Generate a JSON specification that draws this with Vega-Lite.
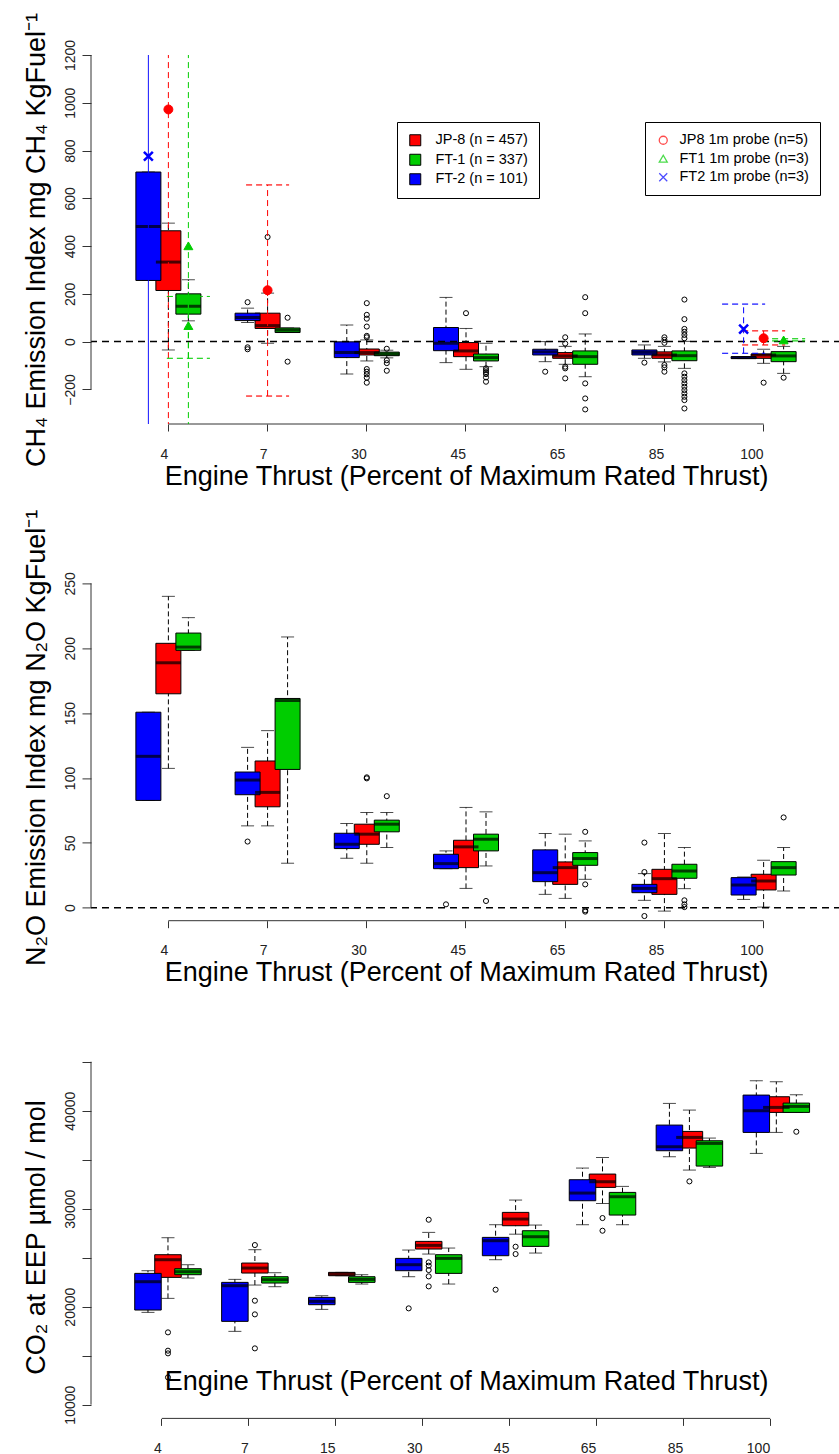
{
"$schema": "https://vega.github.io/schema/vega-lite/v6.json",
"background": "white",
"padding": {"left": 21, "top": 8, "right": 0, "bottom": 0},
"config": {
 "font": "Liberation Sans",
 "view": {"stroke": null},
 "axis": {"grid": false, "domain": false, "tickColor": "#333", "tickWidth": 1, "labelColor": "#222", "titleColor": "#000", "titleFontWeight": "normal", "labelFont": "Liberation Sans", "titleFont": "Liberation Sans"},
 "legend": {"strokeColor": "#000", "strokeWidth": 1, "padding": 11, "labelFontSize": 14.5, "labelColor": "#000", "labelFont": "Liberation Sans", "rowPadding": 3.5, "cornerRadius": 0, "fillColor": "white"}
},
"datasets": {
 "ch4box": [
  {"t":"4","f":"JP-8","lo":-35,"q1":214,"med":333,"q3":464,"hi":496},
  {"t":"7","f":"JP-8","lo":-7,"q1":55,"med":67,"q3":119,"hi":203},
  {"t":"30","f":"JP-8","lo":-81,"q1":-56,"med":-46,"q3":-31,"hi":7},
  {"t":"45","f":"JP-8","lo":-116,"q1":-63,"med":-39,"q3":-4,"hi":55},
  {"t":"65","f":"JP-8","lo":-95,"q1":-70,"med":-60,"q3":-46,"hi":-20},
  {"t":"85","f":"JP-8","lo":-85,"q1":-70,"med":-56,"q3":-43,"hi":-20},
  {"t":"100","f":"JP-8","lo":-91,"q1":-70,"med":-56,"q3":-52,"hi":-32},
  {"t":"4","f":"FT-2","lo":256,"q1":256,"med":482,"q3":710,"hi":710},
  {"t":"7","f":"FT-2","lo":80,"q1":88,"med":101,"q3":119,"hi":140},
  {"t":"30","f":"FT-2","lo":-136,"q1":-67,"med":-46,"q3":-1,"hi":69},
  {"t":"45","f":"FT-2","lo":-88,"q1":-38,"med":-7,"q3":59,"hi":185},
  {"t":"65","f":"FT-2","lo":-84,"q1":-56,"med":-43,"q3":-32,"hi":0},
  {"t":"85","f":"FT-2","lo":-70,"q1":-56,"med":-45,"q3":-35,"hi":-14},
  {"t":"100","f":"FT-2","lo":-71,"q1":-71,"med":-67,"q3":-63,"hi":-63},
  {"t":"4","f":"FT-1","lo":87,"q1":115,"med":148,"q3":200,"hi":259},
  {"t":"7","f":"FT-1","lo":38,"q1":38,"med":48,"q3":57,"hi":57},
  {"t":"30","f":"FT-1","lo":-68,"q1":-59,"med":-52,"q3":-44,"hi":-36},
  {"t":"45","f":"FT-1","lo":-105,"q1":-81,"med":-67,"q3":-52,"hi":-7},
  {"t":"65","f":"FT-1","lo":-147,"q1":-95,"med":-63,"q3":-39,"hi":32},
  {"t":"85","f":"FT-1","lo":-112,"q1":-80,"med":-59,"q3":-39,"hi":1},
  {"t":"100","f":"FT-1","lo":-133,"q1":-84,"med":-60,"q3":-42,"hi":-20}
 ],
 "ch4out": [
  {"t":"7","f":"JP-8","v":438},
  {"t":"30","f":"JP-8","v":161},{"t":"30","f":"JP-8","v":112},{"t":"30","f":"JP-8","v":96},{"t":"30","f":"JP-8","v":63},{"t":"30","f":"JP-8","v":24},{"t":"30","f":"JP-8","v":18},{"t":"30","f":"JP-8","v":-115},{"t":"30","f":"JP-8","v":-126},{"t":"30","f":"JP-8","v":-137},{"t":"30","f":"JP-8","v":-151},{"t":"30","f":"JP-8","v":-172},
  {"t":"45","f":"JP-8","v":119},
  {"t":"65","f":"JP-8","v":18},{"t":"65","f":"JP-8","v":-8},{"t":"65","f":"JP-8","v":-105},{"t":"65","f":"JP-8","v":-112},{"t":"65","f":"JP-8","v":-154},
  {"t":"85","f":"JP-8","v":18},{"t":"85","f":"JP-8","v":7},{"t":"85","f":"JP-8","v":-5},{"t":"85","f":"JP-8","v":-98},{"t":"85","f":"JP-8","v":-108},{"t":"85","f":"JP-8","v":-126},
  {"t":"100","f":"JP-8","v":-172},
  {"t":"7","f":"FT-2","v":165},{"t":"7","f":"FT-2","v":-24},{"t":"7","f":"FT-2","v":-32},
  {"t":"65","f":"FT-2","v":-126},
  {"t":"85","f":"FT-2","v":-88},
  {"t":"7","f":"FT-1","v":100},{"t":"7","f":"FT-1","v":-84},
  {"t":"30","f":"FT-1","v":-30},{"t":"30","f":"FT-1","v":-78},{"t":"30","f":"FT-1","v":-90},{"t":"30","f":"FT-1","v":-122},
  {"t":"45","f":"FT-1","v":-112},{"t":"45","f":"FT-1","v":-120},{"t":"45","f":"FT-1","v":-128},{"t":"45","f":"FT-1","v":-136},{"t":"45","f":"FT-1","v":-150},{"t":"45","f":"FT-1","v":-168},
  {"t":"65","f":"FT-1","v":186},{"t":"65","f":"FT-1","v":119},{"t":"65","f":"FT-1","v":-175},{"t":"65","f":"FT-1","v":-238},{"t":"65","f":"FT-1","v":-284},
  {"t":"85","f":"FT-1","v":176},{"t":"85","f":"FT-1","v":94},{"t":"85","f":"FT-1","v":53},{"t":"85","f":"FT-1","v":41},{"t":"85","f":"FT-1","v":28},{"t":"85","f":"FT-1","v":14},{"t":"85","f":"FT-1","v":-133},{"t":"85","f":"FT-1","v":-147},{"t":"85","f":"FT-1","v":-161},{"t":"85","f":"FT-1","v":-175},{"t":"85","f":"FT-1","v":-189},{"t":"85","f":"FT-1","v":-203},{"t":"85","f":"FT-1","v":-217},{"t":"85","f":"FT-1","v":-231},{"t":"85","f":"FT-1","v":-245},{"t":"85","f":"FT-1","v":-280},
  {"t":"100","f":"FT-1","v":-151}
 ],
 "ch4probe": [
  {"t":"4","f":"JP-8","p":"JP8 1m probe (n=5)","v":972,"lo":-3000,"hi":3000},
  {"t":"7","f":"JP-8","p":"JP8 1m probe (n=5)","v":215,"lo":-228,"hi":656},
  {"t":"100","f":"JP-8","p":"JP8 1m probe (n=5)","v":14,"lo":-14,"hi":45},
  {"t":"4","f":"FT-1","p":"FT1 1m probe (n=3)","v":401,"lo":-3000,"hi":3000},
  {"t":"4","f":"FT-1","p":"FT1 1m probe (n=3)","v":67,"lo":-70,"hi":189},
  {"t":"100","f":"FT-1","p":"FT1 1m probe (n=3)","v":7,"lo":3,"hi":12},
  {"t":"4","f":"FT-2","p":"FT2 1m probe (n=3)","v":776,"lo":-3000,"hi":3000},
  {"t":"100","f":"FT-2","p":"FT2 1m probe (n=3)","v":52,"lo":-49,"hi":157}
 ],
 "n2obox": [
  {"t":"4","f":"JP-8","lo":107.4,"q1":164.9,"med":188.8,"q3":203.8,"hi":240},
  {"t":"7","f":"JP-8","lo":63.1,"q1":77.8,"med":88.9,"q3":113.1,"hi":136.5},
  {"t":"30","f":"JP-8","lo":34.3,"q1":48.9,"med":56.7,"q3":64.4,"hi":73.4},
  {"t":"45","f":"JP-8","lo":14.9,"q1":30.9,"med":46.9,"q3":52,"hi":77.3},
  {"t":"65","f":"JP-8","lo":7.2,"q1":18,"med":30.9,"q3":35.3,"hi":56.7},
  {"t":"85","f":"JP-8","lo":-2.6,"q1":10.3,"med":22.4,"q3":29.6,"hi":57.2},
  {"t":"100","f":"JP-8","lo":0.5,"q1":13.7,"med":20.6,"q3":25.8,"hi":36.6},
  {"t":"4","f":"FT-2","lo":82.7,"q1":82.7,"med":116.7,"q3":150.7,"hi":150.7},
  {"t":"7","f":"FT-2","lo":63.1,"q1":87.1,"med":98.4,"q3":104.6,"hi":123.6},
  {"t":"30","f":"FT-2","lo":38.1,"q1":45.6,"med":48.9,"q3":57.4,"hi":64.9},
  {"t":"45","f":"FT-2","lo":30.1,"q1":30.1,"med":34,"q3":41.2,"hi":43.8},
  {"t":"65","f":"FT-2","lo":10.3,"q1":20.1,"med":27,"q3":44.6,"hi":57.2},
  {"t":"85","f":"FT-2","lo":5.7,"q1":11.6,"med":14.9,"q3":18,"hi":26.3},
  {"t":"100","f":"FT-2","lo":6.4,"q1":9.8,"med":17.5,"q3":23.2,"hi":23.7},
  {"t":"4","f":"FT-1","lo":198.4,"q1":198.4,"med":200.9,"q3":211.7,"hi":223.6},
  {"t":"7","f":"FT-1","lo":34.3,"q1":106.6,"med":159.7,"q3":161.3,"hi":208.7},
  {"t":"30","f":"FT-1","lo":46.4,"q1":58.5,"med":64.4,"q3":67.5,"hi":73.4},
  {"t":"45","f":"FT-1","lo":32.2,"q1":43.8,"med":52.8,"q3":56.7,"hi":73.9},
  {"t":"65","f":"FT-1","lo":21.9,"q1":32.7,"med":37.9,"q3":42.5,"hi":51.5},
  {"t":"85","f":"FT-1","lo":14.7,"q1":22.7,"med":28.3,"q3":33.5,"hi":46.4},
  {"t":"100","f":"FT-1","lo":12.9,"q1":25.2,"med":30.9,"q3":35.5,"hi":46.4}
 ],
 "n2oout": [
  {"t":"7","f":"FT-2","v":51},{"t":"45","f":"FT-2","v":2.6},{"t":"85","f":"FT-2","v":50.2},{"t":"85","f":"FT-2","v":27.5},{"t":"85","f":"FT-2","v":-6.4},
  {"t":"30","f":"JP-8","v":99.7},{"t":"30","f":"JP-8","v":100.5},
  {"t":"30","f":"FT-1","v":86},{"t":"45","f":"FT-1","v":5.2},{"t":"65","f":"FT-1","v":58.5},{"t":"65","f":"FT-1","v":18},{"t":"65","f":"FT-1","v":-2},{"t":"65","f":"FT-1","v":-3},{"t":"85","f":"FT-1","v":5.7},{"t":"85","f":"FT-1","v":2.6},{"t":"85","f":"FT-1","v":0.5},{"t":"100","f":"FT-1","v":69.6}
 ],
 "co2box": [
  {"t":"4","f":"JP-8","lo":20849,"q1":22992,"med":24794,"q3":25305,"hi":27039},
  {"t":"7","f":"JP-8","lo":22210,"q1":23434,"med":23944,"q3":24454,"hi":25815},
  {"t":"15","f":"JP-8","lo":23162,"q1":23162,"med":23332,"q3":23502,"hi":23502},
  {"t":"30","f":"JP-8","lo":25373,"q1":25883,"med":26257,"q3":26665,"hi":27583},
  {"t":"45","f":"JP-8","lo":27400,"q1":28263,"med":28944,"q3":29624,"hi":30882},
  {"t":"65","f":"JP-8","lo":30542,"q1":32175,"med":32753,"q3":33535,"hi":35235},
  {"t":"85","f":"JP-8","lo":33943,"q1":36187,"med":37276,"q3":37888,"hi":40065},
  {"t":"100","f":"JP-8","lo":37786,"q1":39827,"med":40337,"q3":41425,"hi":42956},
  {"t":"4","f":"FT-2","lo":19420,"q1":19659,"med":22550,"q3":23400,"hi":23672},
  {"t":"7","f":"FT-2","lo":17482,"q1":18502,"med":22141,"q3":22482,"hi":22788},
  {"t":"15","f":"FT-2","lo":19727,"q1":20203,"med":20543,"q3":20951,"hi":21121},
  {"t":"30","f":"FT-2","lo":23060,"q1":23672,"med":24284,"q3":24930,"hi":25781},
  {"t":"45","f":"FT-2","lo":24794,"q1":25203,"med":26733,"q3":27073,"hi":28365},
  {"t":"65","f":"FT-2","lo":28365,"q1":30814,"med":31596,"q3":32957,"hi":34147},
  {"t":"85","f":"FT-2","lo":35303,"q1":35915,"med":36323,"q3":38534,"hi":40745},
  {"t":"100","f":"FT-2","lo":35643,"q1":37786,"med":39997,"q3":41595,"hi":43058},
  {"t":"4","f":"FT-1","lo":22924,"q1":23264,"med":23570,"q3":23876,"hi":24284},
  {"t":"7","f":"FT-1","lo":22040,"q1":22414,"med":22754,"q3":23060,"hi":23468},
  {"t":"15","f":"FT-1","lo":22312,"q1":22482,"med":22788,"q3":23060,"hi":23264},
  {"t":"30","f":"FT-1","lo":22312,"q1":23400,"med":24930,"q3":25305,"hi":25985},
  {"t":"45","f":"FT-1","lo":25475,"q1":26155,"med":27141,"q3":27753,"hi":28331},
  {"t":"65","f":"FT-1","lo":28365,"q1":29352,"med":31222,"q3":31664,"hi":32277},
  {"t":"85","f":"FT-1","lo":34215,"q1":34351,"med":36664,"q3":36936,"hi":37208},
  {"t":"100","f":"FT-1","lo":39827,"q1":39827,"med":40439,"q3":40779,"hi":41629}
 ],
 "co2out": [
  {"t":"4","f":"JP-8","v":17380},{"t":"4","f":"JP-8","v":15510},{"t":"4","f":"JP-8","v":15237},{"t":"4","f":"JP-8","v":12789},
  {"t":"7","f":"JP-8","v":26291},{"t":"7","f":"JP-8","v":20611},{"t":"7","f":"JP-8","v":19217},{"t":"7","f":"JP-8","v":15747},
  {"t":"30","f":"JP-8","v":28876},{"t":"30","f":"JP-8","v":24522},{"t":"30","f":"JP-8","v":24182},{"t":"30","f":"JP-8","v":23740},{"t":"30","f":"JP-8","v":23094},{"t":"30","f":"JP-8","v":22074},
  {"t":"45","f":"JP-8","v":26121},{"t":"45","f":"JP-8","v":25373},
  {"t":"65","f":"JP-8","v":29046},{"t":"65","f":"JP-8","v":27753},
  {"t":"85","f":"JP-8","v":32787},
  {"t":"30","f":"FT-2","v":19829},{"t":"45","f":"FT-2","v":21733},
  {"t":"100","f":"FT-1","v":37854}
 ]
},
"bounds": "flush",
"spacing": 146.4,
"vconcat": [
 {
  "width": 750, "height": 369,
  "resolve": {"scale": {"x": "independent"}},
  "layer": [
   {"layer": [
    {"data": {"name": "ch4box"}, "mark": {"type": "rule", "strokeDash": [5, 3], "color": "black"},
     "encoding": {"x": {"field": "t", "type": "ordinal", "scale": {"domain": ["4","7","30","45","65","85","100"], "paddingInner": 0, "paddingOuter": 0.28}},
      "xOffset": {"field": "f", "scale": {"domain": ["FT-2","JP-8","FT-1"], "paddingInner": 0, "paddingOuter": 0.98}},
      "y": {"field": "lo", "type": "quantitative", "scale": {"domain": [-345, 1200], "nice": false, "zero": false}}, "y2": {"field": "hi"}}},
    {"data": {"name": "ch4box"}, "mark": {"type": "tick", "orient": "horizontal", "size": 13, "thickness": 1, "color": "black"},
     "encoding": {"x": {"field": "t", "type": "ordinal", "scale": {"domain": ["4","7","30","45","65","85","100"], "paddingInner": 0, "paddingOuter": 0.28}},
      "xOffset": {"field": "f", "scale": {"domain": ["FT-2","JP-8","FT-1"], "paddingInner": 0, "paddingOuter": 0.98}},
      "y": {"field": "lo", "type": "quantitative", "scale": {"domain": [-345, 1200], "nice": false, "zero": false}}}},
    {"data": {"name": "ch4box"}, "mark": {"type": "tick", "orient": "horizontal", "size": 13, "thickness": 1, "color": "black"},
     "encoding": {"x": {"field": "t", "type": "ordinal", "scale": {"domain": ["4","7","30","45","65","85","100"], "paddingInner": 0, "paddingOuter": 0.28}},
      "xOffset": {"field": "f", "scale": {"domain": ["FT-2","JP-8","FT-1"], "paddingInner": 0, "paddingOuter": 0.98}},
      "y": {"field": "hi", "type": "quantitative", "scale": {"domain": [-345, 1200], "nice": false, "zero": false}}}},
    {"data": {"name": "ch4box"}, "mark": {"type": "bar", "width": 25, "stroke": "black", "strokeWidth": 1},
     "encoding": {"x": {"field": "t", "type": "ordinal", "scale": {"domain": ["4","7","30","45","65","85","100"], "paddingInner": 0, "paddingOuter": 0.28},
        "axis": {"title": "Engine Thrust (Percent of Maximum Rated Thrust)", "titleFontSize": 27, "titleY": 60, "titleBaseline": "alphabetic", "labelAngle": 0, "labelFontSize": 14, "tickSize": 7, "labelPadding": 16, "bandPosition": 0.5, "labelBaseline": "top"}},
      "xOffset": {"field": "f", "scale": {"domain": ["FT-2","JP-8","FT-1"], "paddingInner": 0, "paddingOuter": 0.98}},
      "y": {"field": "q1", "type": "quantitative", "scale": {"domain": [-345, 1200], "nice": false, "zero": false},
        "axis": {"values": [-200,0,200,400,600,800,1000,1200], "format": "d", "title": "CH₄ Emission Index mg CH₄  KgFuel⁻¹", "titleFontSize": 27, "titleAngle": 270, "titleX": -47, "titleBaseline": "alphabetic", "titleAlign": "center", "labelAngle": 270, "labelAlign": "center", "labelBaseline": "alphabetic", "labelFontSize": 14, "tickSize": 9, "labelPadding": 8}},
      "y2": {"field": "q3"},
      "fill": {"field": "f", "type": "nominal", "scale": {"domain": ["JP-8","FT-1","FT-2"], "range": ["#ff0000","#00cd00","#0000ff"]},
        "legend": {"orient": "none", "legendX": 306, "legendY": 67, "title": null, "symbolType": "square", "symbolSize": 121, "symbolStrokeColor": "black", "symbolStrokeWidth": 1, "labelOffset": 13,
          "labelExpr": "datum.label == 'JP-8' ? 'JP-8 (n = 457)' : datum.label == 'FT-1' ? 'FT-1 (n = 337)' : 'FT-2 (n = 101)'"}}}},
    {"data": {"name": "ch4box"}, "mark": {"type": "tick", "orient": "horizontal", "size": 25, "thickness": 3, "color": "black"},
     "encoding": {"x": {"field": "t", "type": "ordinal", "scale": {"domain": ["4","7","30","45","65","85","100"], "paddingInner": 0, "paddingOuter": 0.28}},
      "xOffset": {"field": "f", "scale": {"domain": ["FT-2","JP-8","FT-1"], "paddingInner": 0, "paddingOuter": 0.98}},
      "y": {"field": "med", "type": "quantitative", "scale": {"domain": [-345, 1200], "nice": false, "zero": false}}}},
    {"data": {"name": "ch4out"}, "mark": {"type": "point", "shape": "circle", "size": 26, "filled": false, "stroke": "black", "strokeWidth": 1, "opacity": 1},
     "encoding": {"x": {"field": "t", "type": "ordinal", "scale": {"domain": ["4","7","30","45","65","85","100"], "paddingInner": 0, "paddingOuter": 0.28}},
      "xOffset": {"field": "f", "scale": {"domain": ["FT-2","JP-8","FT-1"], "paddingInner": 0, "paddingOuter": 0.98}},
      "y": {"field": "v", "type": "quantitative", "scale": {"domain": [-345, 1200], "nice": false, "zero": false}}}},
    {"data": {"values": [{}]}, "mark": {"type": "rule", "strokeDash": [7, 5], "strokeWidth": 1.5, "color": "black"},
     "encoding": {"y": {"datum": 0, "type": "quantitative", "scale": {"domain": [-345, 1200], "nice": false, "zero": false}}}},
    {"data": {"values": [{}]}, "mark": {"type": "rule", "color": "#333"},
     "encoding": {"x": {"datum": "4", "type": "ordinal", "scale": {"domain": ["4","7","30","45","65","85","100"], "paddingInner": 0, "paddingOuter": 0.28}}, "x2": {"datum": "100"},
      "y": {"datum": -345, "type": "quantitative", "scale": {"domain": [-345, 1200], "nice": false, "zero": false}}}},
    {"data": {"name": "ch4probe"}, "mark": {"type": "rule", "clip": true, "strokeWidth": 1},
     "encoding": {"x": {"field": "t", "type": "ordinal", "scale": {"domain": ["4","7","30","45","65","85","100"], "paddingInner": 0, "paddingOuter": 0.28}},
      "xOffset": {"field": "f", "scale": {"domain": ["FT-2","JP-8","FT-1"], "paddingInner": 0, "paddingOuter": 0.98}},
      "y": {"field": "lo", "type": "quantitative", "scale": {"domain": [-345, 1200], "nice": false, "zero": false}}, "y2": {"field": "hi"},
      "stroke": {"field": "p", "type": "nominal", "scale": {"domain": ["JP8 1m probe (n=5)","FT1 1m probe (n=3)","FT2 1m probe (n=3)"], "range": ["#ff0000","#00cd00","#0000ff"]},
        "legend": {"orient": "none", "legendX": 554, "legendY": 67, "title": null, "symbolSize": 64, "labelOffset": 9, "symbolFillColor": "transparent", "symbolStrokeWidth": 1.3}},
      "strokeDash": {"condition": {"test": "datum.f == 'FT-2' && datum.hi > 2000", "value": [1, 0]}, "value": [6, 4]}}},
    {"data": {"name": "ch4probe"}, "mark": {"type": "tick", "orient": "horizontal", "size": 43, "thickness": 0, "filled": false, "strokeDash": [6, 4], "clip": true},
     "encoding": {"x": {"field": "t", "type": "ordinal", "scale": {"domain": ["4","7","30","45","65","85","100"], "paddingInner": 0, "paddingOuter": 0.28}},
      "xOffset": {"field": "f", "scale": {"domain": ["FT-2","JP-8","FT-1"], "paddingInner": 0, "paddingOuter": 0.98}},
      "y": {"field": "lo", "type": "quantitative", "scale": {"domain": [-345, 1200], "nice": false, "zero": false}},
      "stroke": {"field": "p", "type": "nominal", "scale": {"domain": ["JP8 1m probe (n=5)","FT1 1m probe (n=3)","FT2 1m probe (n=3)"], "range": ["#ff0000","#00cd00","#0000ff"]},
        "legend": {"orient": "none", "legendX": 554, "legendY": 67, "title": null, "symbolSize": 64, "labelOffset": 9, "symbolFillColor": "transparent", "symbolStrokeWidth": 1.3}}}},
    {"data": {"name": "ch4probe"}, "mark": {"type": "tick", "orient": "horizontal", "size": 43, "thickness": 0, "filled": false, "strokeDash": [6, 4], "clip": true},
     "encoding": {"x": {"field": "t", "type": "ordinal", "scale": {"domain": ["4","7","30","45","65","85","100"], "paddingInner": 0, "paddingOuter": 0.28}},
      "xOffset": {"field": "f", "scale": {"domain": ["FT-2","JP-8","FT-1"], "paddingInner": 0, "paddingOuter": 0.98}},
      "y": {"field": "hi", "type": "quantitative", "scale": {"domain": [-345, 1200], "nice": false, "zero": false}},
      "stroke": {"field": "p", "type": "nominal", "scale": {"domain": ["JP8 1m probe (n=5)","FT1 1m probe (n=3)","FT2 1m probe (n=3)"], "range": ["#ff0000","#00cd00","#0000ff"]},
        "legend": {"orient": "none", "legendX": 554, "legendY": 67, "title": null, "symbolSize": 64, "labelOffset": 9, "symbolFillColor": "transparent", "symbolStrokeWidth": 1.3}}}},
    {"data": {"name": "ch4probe"}, "mark": {"type": "point", "size": 80, "opacity": 1, "filled": true},
     "encoding": {"x": {"field": "t", "type": "ordinal", "scale": {"domain": ["4","7","30","45","65","85","100"], "paddingInner": 0, "paddingOuter": 0.28}},
      "xOffset": {"field": "f", "scale": {"domain": ["FT-2","JP-8","FT-1"], "paddingInner": 0, "paddingOuter": 0.98}},
      "y": {"field": "v", "type": "quantitative", "scale": {"domain": [-345, 1200], "nice": false, "zero": false}},
      "shape": {"field": "p", "type": "nominal", "scale": {"domain": ["JP8 1m probe (n=5)","FT1 1m probe (n=3)","FT2 1m probe (n=3)"], "range": ["circle","triangle-up","M-1,-1L1,1M1,-1L-1,1"]},
        "legend": {"orient": "none", "legendX": 554, "legendY": 67, "title": null, "symbolSize": 64, "labelOffset": 9, "symbolFillColor": "transparent", "symbolStrokeWidth": 1.3}},
      "stroke": {"field": "p", "type": "nominal", "scale": {"domain": ["JP8 1m probe (n=5)","FT1 1m probe (n=3)","FT2 1m probe (n=3)"], "range": ["#ff0000","#00cd00","#0000ff"]},
        "legend": {"orient": "none", "legendX": 554, "legendY": 67, "title": null, "symbolSize": 64, "labelOffset": 9, "symbolFillColor": "transparent", "symbolStrokeWidth": 1.3}},
      "fill": {"field": "f", "type": "nominal", "scale": {"domain": ["JP-8","FT-1","FT-2"], "range": ["#ff0000","#00cd00","#0000ff"]}},
      "strokeWidth": {"condition": {"test": "datum.f == 'FT-2'", "value": 2.5}, "value": 1}}}
   ]},
   {"data": {"values": [{}]}, "mark": {"type": "rule", "color": "#333"},
    "encoding": {"x": {"datum": 0, "type": "quantitative", "scale": {"domain": [0, 1]}, "axis": null},
     "y": {"datum": -200, "type": "quantitative", "scale": {"domain": [-345, 1200], "nice": false, "zero": false}}, "y2": {"datum": 1200}}}
  ]
 },
 {
  "bounds": "flush",
  "spacing": 126.6,
  "vconcat": [
   {
    "width": 750, "height": 350.3,
    "resolve": {"scale": {"x": "independent"}},
    "layer": [
     {"layer": [
      {"data": {"name": "n2obox"}, "mark": {"type": "rule", "strokeDash": [5, 3], "color": "black"},
       "encoding": {"x": {"field": "t", "type": "ordinal", "scale": {"domain": ["4","7","30","45","65","85","100"], "paddingInner": 0, "paddingOuter": 0.28}},
        "xOffset": {"field": "f", "scale": {"domain": ["FT-2","JP-8","FT-1"], "paddingInner": 0, "paddingOuter": 0.98}},
        "y": {"field": "lo", "type": "quantitative", "scale": {"domain": [-10, 260], "nice": false, "zero": false}}, "y2": {"field": "hi"}}},
      {"data": {"name": "n2obox"}, "mark": {"type": "tick", "orient": "horizontal", "size": 13, "thickness": 1, "color": "black"},
       "encoding": {"x": {"field": "t", "type": "ordinal", "scale": {"domain": ["4","7","30","45","65","85","100"], "paddingInner": 0, "paddingOuter": 0.28}},
        "xOffset": {"field": "f", "scale": {"domain": ["FT-2","JP-8","FT-1"], "paddingInner": 0, "paddingOuter": 0.98}},
        "y": {"field": "lo", "type": "quantitative", "scale": {"domain": [-10, 260], "nice": false, "zero": false}}}},
      {"data": {"name": "n2obox"}, "mark": {"type": "tick", "orient": "horizontal", "size": 13, "thickness": 1, "color": "black"},
       "encoding": {"x": {"field": "t", "type": "ordinal", "scale": {"domain": ["4","7","30","45","65","85","100"], "paddingInner": 0, "paddingOuter": 0.28}},
        "xOffset": {"field": "f", "scale": {"domain": ["FT-2","JP-8","FT-1"], "paddingInner": 0, "paddingOuter": 0.98}},
        "y": {"field": "hi", "type": "quantitative", "scale": {"domain": [-10, 260], "nice": false, "zero": false}}}},
      {"data": {"name": "n2obox"}, "mark": {"type": "bar", "width": 25, "stroke": "black", "strokeWidth": 1},
       "encoding": {"x": {"field": "t", "type": "ordinal", "scale": {"domain": ["4","7","30","45","65","85","100"], "paddingInner": 0, "paddingOuter": 0.28},
          "axis": {"title": "Engine Thrust (Percent of Maximum Rated Thrust)", "titleFontSize": 27, "titleY": 59.3, "titleBaseline": "alphabetic", "labelAngle": 0, "labelFontSize": 14, "tickSize": 7, "labelPadding": 16, "bandPosition": 0.5, "labelBaseline": "top"}},
        "xOffset": {"field": "f", "scale": {"domain": ["FT-2","JP-8","FT-1"], "paddingInner": 0, "paddingOuter": 0.98}},
        "y": {"field": "q1", "type": "quantitative", "scale": {"domain": [-10, 260], "nice": false, "zero": false},
          "axis": {"values": [0,50,100,150,200,250], "format": "d", "title": "N₂O Emission Index mg N₂O  KgFuel⁻¹", "titleFontSize": 27, "titleAngle": 270, "titleX": -47, "titleY": 167, "titleBaseline": "alphabetic", "titleAlign": "center", "labelAngle": 270, "labelAlign": "center", "labelBaseline": "alphabetic", "labelFontSize": 14, "tickSize": 9, "labelPadding": 8}},
        "y2": {"field": "q3"},
        "fill": {"field": "f", "type": "nominal", "scale": {"domain": ["JP-8","FT-1","FT-2"], "range": ["#ff0000","#00cd00","#0000ff"]},
          "legend": {"orient": "none", "legendX": 455, "legendY": 77, "title": null, "symbolType": "square", "symbolSize": 121, "symbolStrokeColor": "black", "symbolStrokeWidth": 1, "labelOffset": 13,
            "labelExpr": "datum.label == 'JP-8' ? 'JP-8 (n = 368)' : datum.label == 'FT-1' ? 'FT-1 (n = 337)' : 'FT-2 (n = 101)'"}}}},
      {"data": {"name": "n2obox"}, "mark": {"type": "tick", "orient": "horizontal", "size": 25, "thickness": 3, "color": "black"},
       "encoding": {"x": {"field": "t", "type": "ordinal", "scale": {"domain": ["4","7","30","45","65","85","100"], "paddingInner": 0, "paddingOuter": 0.28}},
        "xOffset": {"field": "f", "scale": {"domain": ["FT-2","JP-8","FT-1"], "paddingInner": 0, "paddingOuter": 0.98}},
        "y": {"field": "med", "type": "quantitative", "scale": {"domain": [-10, 260], "nice": false, "zero": false}}}},
      {"data": {"name": "n2oout"}, "mark": {"type": "point", "shape": "circle", "size": 26, "filled": false, "stroke": "black", "strokeWidth": 1, "opacity": 1},
       "encoding": {"x": {"field": "t", "type": "ordinal", "scale": {"domain": ["4","7","30","45","65","85","100"], "paddingInner": 0, "paddingOuter": 0.28}},
        "xOffset": {"field": "f", "scale": {"domain": ["FT-2","JP-8","FT-1"], "paddingInner": 0, "paddingOuter": 0.98}},
        "y": {"field": "v", "type": "quantitative", "scale": {"domain": [-10, 260], "nice": false, "zero": false}}}},
      {"data": {"values": [{}]}, "mark": {"type": "rule", "strokeDash": [7, 5], "strokeWidth": 1.5, "color": "black"},
       "encoding": {"y": {"datum": 0, "type": "quantitative", "scale": {"domain": [-10, 260], "nice": false, "zero": false}}}},
      {"data": {"values": [{}]}, "mark": {"type": "rule", "color": "#333"},
       "encoding": {"x": {"datum": "4", "type": "ordinal", "scale": {"domain": ["4","7","30","45","65","85","100"], "paddingInner": 0, "paddingOuter": 0.28}}, "x2": {"datum": "100"},
        "y": {"datum": -10, "type": "quantitative", "scale": {"domain": [-10, 260], "nice": false, "zero": false}}}}
     ]},
     {"data": {"values": [{}]}, "mark": {"type": "rule", "color": "#333"},
      "encoding": {"x": {"datum": 0, "type": "quantitative", "scale": {"domain": [0, 1]}, "axis": null},
       "y": {"datum": 0, "type": "quantitative", "scale": {"domain": [-10, 260], "nice": false, "zero": false}}, "y2": {"datum": 250}}}
    ]
   },
   {
    "width": 750, "height": 370.4,
    "resolve": {"scale": {"x": "independent"}},
    "layer": [
     {"layer": [
      {"data": {"name": "co2box"}, "mark": {"type": "rule", "strokeDash": [5, 3], "color": "black"},
       "encoding": {"x": {"field": "t", "type": "ordinal", "scale": {"domain": ["4","7","15","30","45","65","85","100"], "paddingInner": 0, "paddingOuter": 0.315}},
        "xOffset": {"field": "f", "scale": {"domain": ["FT-2","JP-8","FT-1"], "paddingInner": 0, "paddingOuter": 0.955}},
        "y": {"field": "lo", "type": "quantitative", "scale": {"domain": [8600, 46400], "nice": false, "zero": false}}, "y2": {"field": "hi"}}},
      {"data": {"name": "co2box"}, "mark": {"type": "tick", "orient": "horizontal", "size": 13, "thickness": 1, "color": "black"},
       "encoding": {"x": {"field": "t", "type": "ordinal", "scale": {"domain": ["4","7","15","30","45","65","85","100"], "paddingInner": 0, "paddingOuter": 0.315}},
        "xOffset": {"field": "f", "scale": {"domain": ["FT-2","JP-8","FT-1"], "paddingInner": 0, "paddingOuter": 0.955}},
        "y": {"field": "lo", "type": "quantitative", "scale": {"domain": [8600, 46400], "nice": false, "zero": false}}}},
      {"data": {"name": "co2box"}, "mark": {"type": "tick", "orient": "horizontal", "size": 13, "thickness": 1, "color": "black"},
       "encoding": {"x": {"field": "t", "type": "ordinal", "scale": {"domain": ["4","7","15","30","45","65","85","100"], "paddingInner": 0, "paddingOuter": 0.315}},
        "xOffset": {"field": "f", "scale": {"domain": ["FT-2","JP-8","FT-1"], "paddingInner": 0, "paddingOuter": 0.955}},
        "y": {"field": "hi", "type": "quantitative", "scale": {"domain": [8600, 46400], "nice": false, "zero": false}}}},
      {"data": {"name": "co2box"}, "mark": {"type": "bar", "width": 26.5, "stroke": "black", "strokeWidth": 1},
       "encoding": {"x": {"field": "t", "type": "ordinal", "scale": {"domain": ["4","7","15","30","45","65","85","100"], "paddingInner": 0, "paddingOuter": 0.315},
          "axis": {"title": "Engine Thrust (Percent of Maximum Rated Thrust)", "titleFontSize": 27, "titleY": -29.4, "titleBaseline": "alphabetic", "labelAngle": 0, "labelFontSize": 14, "tickSize": 7, "labelPadding": 16, "bandPosition": 0.5, "labelBaseline": "top"}},
        "xOffset": {"field": "f", "scale": {"domain": ["FT-2","JP-8","FT-1"], "paddingInner": 0, "paddingOuter": 0.955}},
        "y": {"field": "q1", "type": "quantitative", "scale": {"domain": [8600, 46400], "nice": false, "zero": false},
          "axis": {"values": [10000,15000,20000,25000,30000,35000,40000,45000], "format": "d", "labelExpr": "datum.value % 10000 === 0 ? datum.label : ''", "title": "CO₂ at EEP µmol / mol", "titleFontSize": 27, "titleAngle": 270, "titleX": -47, "titleY": 189, "titleBaseline": "alphabetic", "titleAlign": "center", "labelAngle": 270, "labelAlign": "center", "labelBaseline": "alphabetic", "labelFontSize": 14, "tickSize": 9, "labelPadding": 8}},
        "y2": {"field": "q3"},
        "fill": {"field": "f", "type": "nominal", "scale": {"domain": ["JP-8","FT-1","FT-2"], "range": ["#ff0000","#00cd00","#0000ff"]},
          "legend": {"orient": "none", "legendX": 141, "legendY": 63, "title": null, "symbolType": "square", "symbolSize": 121, "symbolStrokeColor": "black", "symbolStrokeWidth": 1, "labelOffset": 13}}}},
      {"data": {"name": "co2box"}, "mark": {"type": "tick", "orient": "horizontal", "size": 26.5, "thickness": 3, "color": "black"},
       "encoding": {"x": {"field": "t", "type": "ordinal", "scale": {"domain": ["4","7","15","30","45","65","85","100"], "paddingInner": 0, "paddingOuter": 0.315}},
        "xOffset": {"field": "f", "scale": {"domain": ["FT-2","JP-8","FT-1"], "paddingInner": 0, "paddingOuter": 0.955}},
        "y": {"field": "med", "type": "quantitative", "scale": {"domain": [8600, 46400], "nice": false, "zero": false}}}},
      {"data": {"name": "co2out"}, "mark": {"type": "point", "shape": "circle", "size": 26, "filled": false, "stroke": "black", "strokeWidth": 1, "opacity": 1},
       "encoding": {"x": {"field": "t", "type": "ordinal", "scale": {"domain": ["4","7","15","30","45","65","85","100"], "paddingInner": 0, "paddingOuter": 0.315}},
        "xOffset": {"field": "f", "scale": {"domain": ["FT-2","JP-8","FT-1"], "paddingInner": 0, "paddingOuter": 0.955}},
        "y": {"field": "v", "type": "quantitative", "scale": {"domain": [8600, 46400], "nice": false, "zero": false}}}},
      {"data": {"values": [{}]}, "mark": {"type": "rule", "color": "#333"},
       "encoding": {"x": {"datum": "4", "type": "ordinal", "scale": {"domain": ["4","7","15","30","45","65","85","100"], "paddingInner": 0, "paddingOuter": 0.315}}, "x2": {"datum": "100"},
        "y": {"datum": 8600, "type": "quantitative", "scale": {"domain": [8600, 46400], "nice": false, "zero": false}}}}
     ]},
     {"data": {"values": [{}]}, "mark": {"type": "rule", "color": "#333"},
      "encoding": {"x": {"datum": 0, "type": "quantitative", "scale": {"domain": [0, 1]}, "axis": null},
       "y": {"datum": 10000, "type": "quantitative", "scale": {"domain": [8600, 46400], "nice": false, "zero": false}}, "y2": {"datum": 45000}}}
    ]
   }
  ]
 }
]
}
